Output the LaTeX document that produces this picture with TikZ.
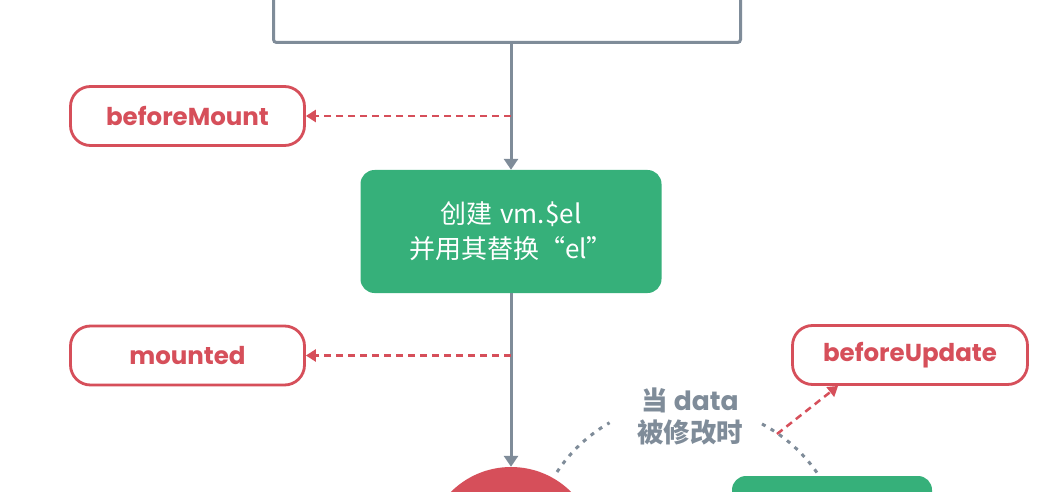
\documentclass[tikz,border=0pt]{standalone}
\usepackage{fontspec}
\newfontfamily\cjk{Noto Sans CJK SC}
\newfontfamily\pop{Poppins}
\usetikzlibrary{arrows.meta}
\definecolor{hookred}{HTML}{D64F5A}
\definecolor{flowgray}{HTML}{7F8C99}
\definecolor{stepgreen}{HTML}{36B07A}

\begin{document}
\begin{tikzpicture}[x=1pt,y=-1pt,
  hook/.style={draw=hookred, line width=2.8pt, rounded corners=20pt, fill=white,
    minimum width=234pt, minimum height=59pt, inner sep=0pt,
    text=hookred, font=\pop\bfseries\fontsize{24.5}{28}\selectfont},
  stepbox/.style={fill=stepgreen, rounded corners=14pt, inner sep=0pt,
    text=white, align=center, font=\cjk\fontsize{26}{35}\selectfont},
  flow/.style={draw=flowgray, line width=3pt, -{Triangle[width=14pt,length=11pt]}},
  hookarrow/.style={draw=hookred, line width=2.5pt, dash pattern=on 7pt off 5pt,
    -{Triangle[width=12pt,length=10pt]}},
  dotarc/.style={draw=flowgray, line width=3pt, dash pattern=on 4pt off 6pt},
]
% canvas
\fill[white] (0,0) rectangle (1047,492);
\useasboundingbox (0,0) rectangle (1047,492);
\clip (0,0) rectangle (1047,492);

% previous step (box continues above the frame)
\node[draw=flowgray, line width=3pt, rounded corners=3pt,
      minimum width=467pt, minimum height=120pt] (topbox) at (507,-17.5) {};

% lifecycle hooks
\node[hook] (bmount) at (187.5,116) {beforeMount};
\node[hook] (mnt)    at (187.5,355.5) {mounted};
\node[hook, minimum width=235pt] (bupd) at (910,355) {beforeUpdate};

% steps
\node[stepbox, minimum width=301pt, minimum height=123pt] (create) at (511,231.5)
  {创建\hspace{0.3em}vm.\$el\\并用其替换“el”};
\node[circle, fill=hookred, minimum size=170pt, inner sep=0pt] (render) at (511,552) {};
\node[stepbox, minimum width=200pt, minimum height=80pt] (rerender) at (832,516) {};

% data change trigger
\node[text=flowgray, align=center, font=\cjk\bfseries\fontsize{26.5}{32}\selectfont]
  (trigger) at (690,416) {当 {\pop\bfseries data}\\被修改时};

% main flow
\draw[flow] (create.north |- topbox.south) -- (create.north);
\draw[flow] (create.south) -- (render.north);

% hook calls
\draw[hookarrow] (create.north |- bmount.east) -- (bmount.east);
\draw[hookarrow] (create.south |- mnt.east) -- (mnt.east);

% update loop
\coordinate (arcL) at (557,472);
\coordinate (arcR) at (762,424);
\draw[dotarc] (arcL) arc[start angle=146.5, end angle=119.8, radius=156pt];
\draw[dotarc] (arcR) arc[start angle=62.1, end angle=32.9, radius=156pt];
\coordinate (trig) at (777,434);
\draw[hookarrow] (trig) -- ([xshift=47pt]bupd.south west);
\end{tikzpicture}
\end{document}
